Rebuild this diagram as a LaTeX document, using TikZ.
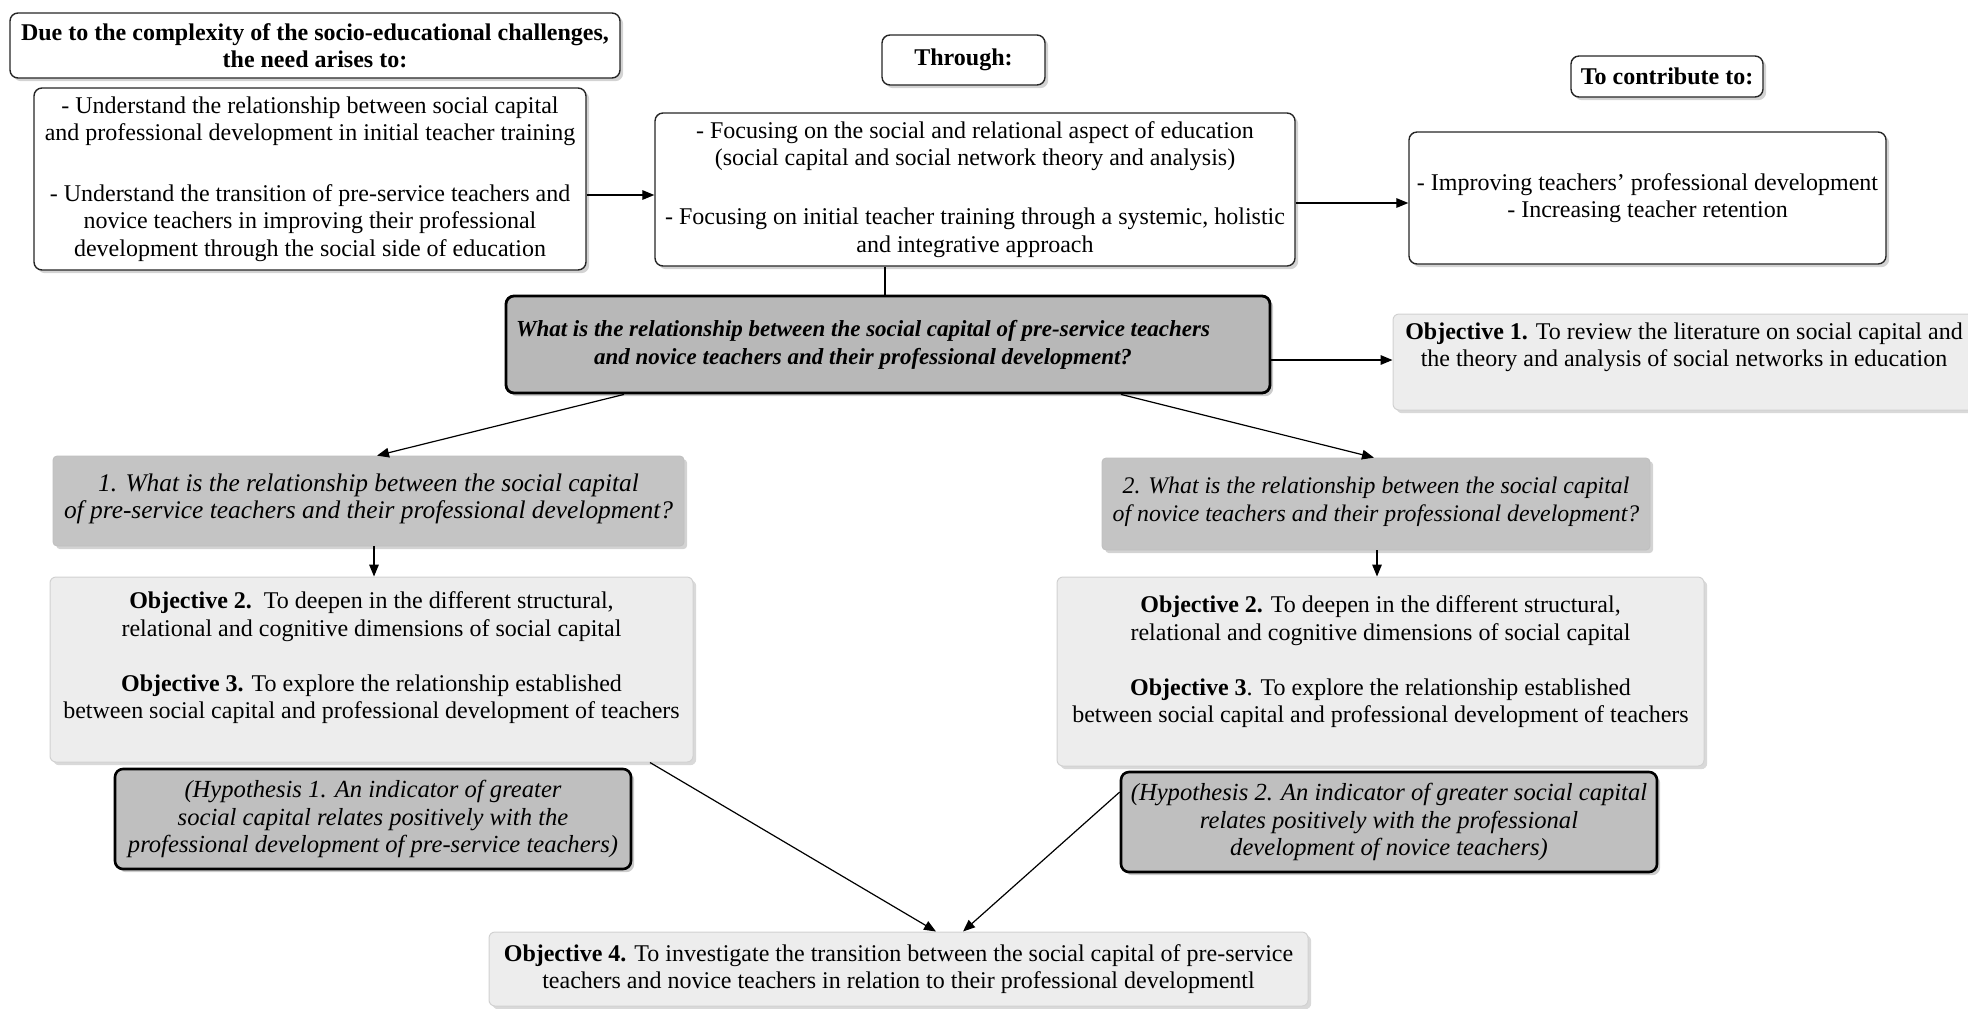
\documentclass[tikz,border=0pt]{standalone}
\usepackage{fontspec}
\setmainfont{Liberation Serif}
\usetikzlibrary{shadows,arrows.meta,calc}

\tikzset{
  base/.style={align=center, inner sep=0pt, font=\fontsize{12}{13.6}\selectfont},
  whitebox/.style={base, draw=black!85, line width=0.7pt, fill=white, rounded corners=4pt,
    drop shadow={shadow xshift=1.6pt, shadow yshift=-1.6pt, opacity=0.35}},
  darkbox/.style={base, draw=black, line width=1.4pt, fill=black!28, rounded corners=4pt,
    drop shadow={shadow xshift=1.6pt, shadow yshift=-1.6pt, opacity=0.4}},
  subq/.style={base, draw=black!25, line width=0.4pt, fill=black!23, rounded corners=2pt,
    drop shadow={shadow xshift=1.6pt, shadow yshift=-1.6pt, opacity=0.35}},
  objbox/.style={base, draw=black!18, line width=0.5pt, fill=black!7, rounded corners=3pt,
    drop shadow={shadow xshift=1.6pt, shadow yshift=-1.6pt, opacity=0.3}},
  hypbox/.style={base, draw=black, line width=1.3pt, fill=black!25, rounded corners=4pt,
    drop shadow={shadow xshift=1.6pt, shadow yshift=-1.6pt, opacity=0.4}},
  arr/.style={-{Triangle[length=6pt,width=4.8pt]}, line width=0.6pt},
  plain/.style={line width=0.6pt},
  txt/.style={align=center, inner sep=0pt, font=\fontsize{12}{13.6}\selectfont},
  headfont/.style={font=\bfseries\fontsize{12}{13.6}\selectfont},
  hfont/.style={font=\itshape\fontsize{12.3}{13.6}\selectfont}
}

\begin{document}
\begin{tikzpicture}[x=0.5pt, y=-0.5pt]
\useasboundingbox (0,0) rectangle (1968,1008);

% --- top row: motivation, approach, contribution
\node[whitebox, headfont, minimum width=305pt, minimum height=32.5pt]
  (head) at (315,45.5) {Due to the complexity of the socio-educational challenges,\\ the need arises to:};
\node[whitebox, minimum width=276pt, minimum height=91pt] (need) at (310,179)
  {- Understand the relationship between social capital\\
   and professional development in initial teacher training\\[17pt]
   - Understand the transition of pre-service teachers and\\
   novice teachers in improving their professional\\
   development through the social side of education};

\node[whitebox, headfont, minimum width=81.5pt, minimum height=25pt]
  (through) at (963.5,60) {Through:};
\node[whitebox, minimum width=320pt, minimum height=76.5pt] (focus) at (975,189.5)
  {- Focusing on the social and relational aspect of education\\
   (social capital and social network theory and analysis)\\[16pt]
   - Focusing on initial teacher training through a systemic, holistic\\
   and integrative approach};

\node[whitebox, headfont, minimum width=96pt, minimum height=20.5pt]
  (contrib) at (1667,76.5) {To contribute to:};
\node[whitebox, minimum width=238.5pt, minimum height=66pt] (improve) at (1647.5,198)
  {- Improving teachers' professional development\\
   - Increasing teacher retention};

% --- central research question and first objective
\node[darkbox, minimum width=382pt, minimum height=48.5pt,
  font=\bfseries\itshape\fontsize{11.5}{14}\selectfont] (mainq) at (888,344.5)
  {What is the relationship between the social capital of pre-service teachers\hspace*{25pt}\\
   and novice teachers and their professional development?\hspace*{25pt}};

\node[objbox, minimum width=291pt, minimum height=48pt] (obj1) at (1684,362) {};
\node[txt, anchor=north] (obj1t) at ([yshift=-4.5pt]obj1.north)
  {\textbf{Objective 1.} To review the literature on social capital and\\
   the theory and analysis of social networks in education};

% --- the two specific questions
\node[subq, font=\itshape\fontsize{12.7}{13.9}\selectfont,
  minimum width=315.5pt, minimum height=45pt] (q1) at (368.5,501)
  {1. What is the relationship between the social capital\\
   of pre-service teachers and their professional development?\\[-9pt]};
\node[subq, font=\itshape\fontsize{11.9}{13.9}\selectfont,
  minimum width=274pt, minimum height=46pt] (q2) at (1376,504)
  {2. What is the relationship between the social capital\\
   of novice teachers and their professional development?\\[-9pt]};

% --- objectives 2 and 3 for each group
\node[objbox, minimum width=321.5pt, minimum height=92.5pt] (objl) at (371.5,669.5) {};
\node[txt, anchor=north] (objlt) at ([yshift=-7.5pt]objl.north)
  {\textbf{Objective 2.}\ \ To deepen in the different structural,\\
   relational and cognitive dimensions of social capital\\[14pt]
   \textbf{Objective 3.} To explore the relationship established\\
   between social capital and professional development of teachers};

\node[objbox, minimum width=323.5pt, minimum height=94.5pt] (objr) at (1380.5,671.5) {};
\node[txt, anchor=north] (objrt) at ([yshift=-9.5pt]objr.north)
  {\textbf{Objective 2.} To deepen in the different structural,\\
   relational and cognitive dimensions of social capital\\[14pt]
   \textbf{Objective 3}. To explore the relationship established\\
   between social capital and professional development of teachers};

% --- hypotheses
\node[hypbox, hfont, minimum width=258pt, minimum height=50pt]
  (hyp1) at (373,819)
  {(Hypothesis 1. An indicator of greater\\
   social capital relates positively with the\\
   professional development of pre-service teachers)};
\node[hypbox, hfont, minimum width=268pt, minimum height=50pt]
  (hyp2) at (1389,822)
  {(Hypothesis 2. An indicator of greater social capital\\
   relates positively with the professional\\
   development of novice teachers)};

% --- final objective
\node[objbox, minimum width=409.5pt, minimum height=37pt] (obj4) at (898.5,969)
  {\textbf{Objective 4.} To investigate the transition between the social capital of pre-service\\
   teachers and novice teachers in relation to their professional developmentl};

% --- connectors
\draw[arr] (need.east |- 0,195) -- (focus.west |- 0,195);
\draw[arr] (focus.east |- 0,203) -- (improve.west |- 0,203);
\draw[plain] (focus.south -| 885,0) -- (mainq.north -| 885,0);
\draw[arr] (mainq.east |- 0,360) -- (obj1.west |- 0,360);
\draw[arr] (mainq.south -| 624,0) -- (q1.north -| 377,0);
\draw[arr] (mainq.south -| 1121,0) -- (q2.north -| 1374,0);
\draw[arr] (q1.south -| 374,0) -- (objl.north -| 374,0);
\draw[arr] (q2.south -| 1377,0) -- (objr.north -| 1377,0);
\draw[arr] (objl.south -| 650,0) -- (obj4.north -| 936,0);
\draw[arr] (hyp2.west |- 0,792) -- (obj4.north -| 963,0);
\end{tikzpicture}
\end{document}
